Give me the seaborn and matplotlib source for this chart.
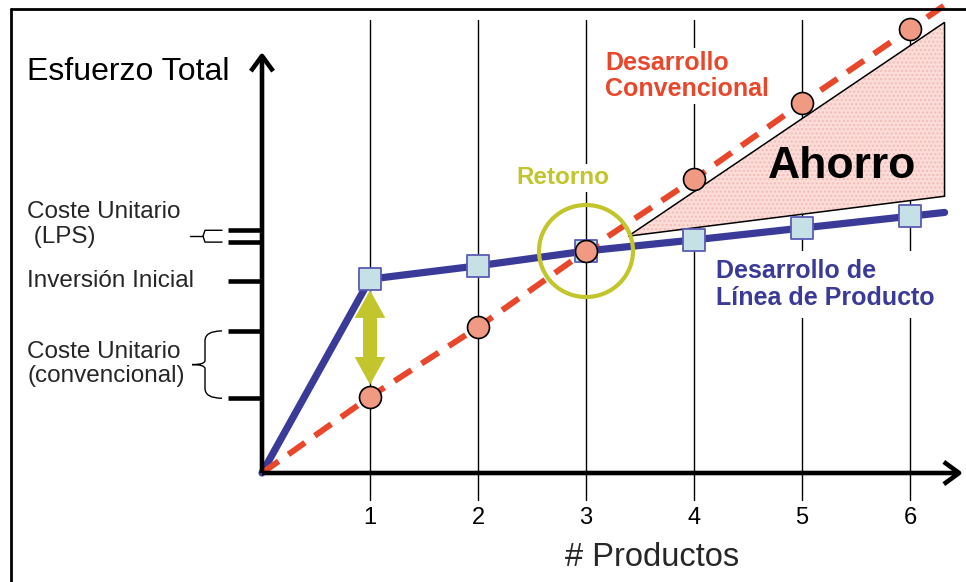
import matplotlib

matplotlib.use("Agg")
import matplotlib.pyplot as plt
import numpy as np
import pandas as pd
import seaborn as sns
from matplotlib.lines import Line2D
from matplotlib.patches import Ellipse, FancyArrowPatch, PathPatch, Polygon
from matplotlib.path import Path

# --- data --------------------------------------------------------------
products = [0, 1, 2, 3, 4, 5, 6]
effort_conventional = [0, 1.03, 1.97, 3.0, 3.97, 5.0, 6.0]
effort_lps = [0, 2.62, 2.80, 3.0, 3.15, 3.31, 3.47]
product_ticks = [1, 2, 3, 4, 5, 6]
effort_ticks = [1.01, 1.92, 2.59, 3.12, 3.28]
savings_x = [3.39, 6.32, 6.32]
savings_y = [3.20, 6.09, 3.74]
x_end = 6.32

# --- layout ------------------------------------------------------------
W, H = 966, 582
OX, OY = 262, 473  # origin in pixels
SX, SY = 108, 74  # pixels per unit

NAVY = "#3A3A98"
RED = "#E9472B"
OLIVE = "#C2C52B"

sns.set_theme(style="white")
plt.rcParams["font.family"] = ["Liberation Sans", "DejaVu Sans"]

fig = plt.figure(figsize=(W / 100, H / 100), dpi=100)
ax = fig.add_axes([0, 0, 1, 1])
ax.set_xlim(-OX / SX, (W - OX) / SX)
ax.set_ylim(-(H - OY) / SY, OY / SY)
ax.axis("off")


def dx(px):
    return px / SX


def dy(px):
    return px / SY


# vertical guide lines
for p in product_ticks:
    ax.plot([p, p], [dy(-27), dy(453)], color="black", lw=1.0, zorder=1)
    ax.text(p, dy(-45), str(p), ha="center", va="center", fontsize=17,
            color="black", zorder=3)

# savings triangle
tri = list(zip(savings_x, savings_y))
ax.add_patch(Polygon(tri, closed=True, facecolor="#FBDCD8", edgecolor="#F2BDB5",
                     hatch="....", lw=0, zorder=2))
ax.add_patch(Polygon(tri, closed=True, fill=False, edgecolor="black", lw=1.1,
                     zorder=2.1))


def extend(xs, ys):
    slope = (ys[-1] - ys[-2]) / (xs[-1] - xs[-2])
    return xs + [x_end], ys + [ys[-1] + slope * (x_end - xs[-1])]


lx, ly = extend(products, effort_lps)
cx, cy = extend(products, effort_conventional)
df_lps = pd.DataFrame({"productos": lx, "esfuerzo": ly})
df_conv = pd.DataFrame({"productos": cx, "esfuerzo": cy})

sns.lineplot(data=df_lps, x="productos", y="esfuerzo", ax=ax, color=NAVY,
             lw=5.2, sort=False, zorder=3, solid_capstyle="round")
sns.lineplot(data=df_conv, x="productos", y="esfuerzo", ax=ax, color=RED,
             lw=4.3, sort=False, zorder=4, dashes=(3.4, 2.0))

sns.scatterplot(x=products[1:], y=effort_lps[1:], ax=ax, marker="s", s=250,
                color="#C6E1E6", edgecolor="#5B5BB5", linewidth=1.3, zorder=5)
sns.scatterplot(x=products[1:], y=effort_conventional[1:], ax=ax, marker="o",
                s=250, color="#F09A84", edgecolor="black", linewidth=1.2,
                zorder=6)

# break-even circle
ax.add_patch(Ellipse((3, effort_lps[3]), dx(94), dy(92), fill=False,
                     edgecolor=OLIVE, lw=3, zorder=7))

# double arrow between both curves at one product
top = effort_lps[1] - dy(11)
bot = effort_conventional[1] + dy(12)
for start, end in ((bot + dy(30), top), (top - dy(30), bot)):
    ax.add_patch(FancyArrowPatch(
        (1, start), (1, end),
        arrowstyle="simple,head_length=20,head_width=22,tail_width=10",
        mutation_scale=1, color=OLIVE, lw=0, shrinkA=0, shrinkB=0, zorder=7))

# axes with arrows
for tip in [(dx(701), 0), (0, dy(421))]:
    ax.add_patch(FancyArrowPatch(
        (0, 0), tip, arrowstyle="->,head_length=0.55,head_width=0.4",
        mutation_scale=20, color="black", lw=3.3, shrinkA=0, shrinkB=0,
        zorder=8, capstyle="butt"))

# effort ticks
for t in effort_ticks:
    ax.plot([dx(-34), 0], [t, t], color="black", lw=3.3, zorder=8,
            solid_capstyle="butt")

# bracket for LPS unit cost
t3, t4 = effort_ticks[3], effort_ticks[4]
ax.plot([dx(-72), dx(-59)], [(t3 + t4) / 2] * 2, color="black", lw=1.0)
ax.plot([dx(-40), dx(-57), dx(-59), dx(-57), dx(-40)],
        [t4, t4, (t3 + t4) / 2, t3, t3], color="black", lw=1.0)

# curly brace for conventional unit cost
b0, b1 = effort_ticks[0], effort_ticks[1]
bm = (b0 + b1) / 2
verts = [(dx(-40), b1), (dx(-57), b1), (dx(-57), b1 - dy(10)),
         (dx(-57), bm + dy(4)), (dx(-57), bm), (dx(-70), bm),
         (dx(-57), bm), (dx(-57), bm - dy(4)),
         (dx(-57), b0 + dy(10)), (dx(-57), b0), (dx(-40), b0)]
codes = [Path.MOVETO, Path.CURVE3, Path.CURVE3, Path.LINETO, Path.CURVE3,
         Path.CURVE3, Path.CURVE3, Path.CURVE3, Path.LINETO, Path.CURVE3,
         Path.CURVE3]
ax.add_patch(PathPatch(Path(verts, codes), fill=False, edgecolor="black", lw=1.0))

# texts
white = dict(facecolor="white", edgecolor="none", pad=2)
ax.text(dx(-235), dy(401), "Esfuerzo Total", fontsize=23, ha="left",
        va="center", color="black")
ax.text(dx(-235), dy(248.5), "Coste Unitario\n (LPS)", fontsize=17.5, ha="left",
        va="center", linespacing=1.12)
ax.text(dx(-235), dy(192), "Inversión Inicial", fontsize=17.5, ha="left",
        va="center")
ax.text(dx(-235), dy(109), "Coste Unitario\n(convencional)", fontsize=17.5,
        ha="left", va="center", linespacing=1.12)
ax.text(dx(390), dy(-85), "# Productos", fontsize=23.5, ha="center", va="center")

ax.text(dx(343), dy(397), "Desarrollo\nConvencional", fontsize=18,
        fontweight="bold", color=RED, ha="left", va="center", linespacing=1.12,
        bbox=white, zorder=3)
ax.text(dx(301), dy(295), "Retorno", fontsize=17.5, fontweight="bold",
        color=OLIVE, ha="center", va="center", bbox=white, zorder=3)
ax.text(dx(580), dy(306), "Ahorro", fontsize=32, fontweight="bold",
        color="black", ha="center", va="center", zorder=3)
ax.text(dx(454), dy(188.5), "Desarrollo de\nLínea de Producto", fontsize=18,
        fontweight="bold", color=NAVY, ha="left", va="center",
        linespacing=1.12, bbox=dict(facecolor="white", edgecolor="none", pad=6),
        zorder=3)

# frame of the slide
fig.add_artist(Line2D([11 / W, 11 / W], [0, 1 - 9 / H], color="black", lw=2,
                      transform=fig.transFigure))
fig.add_artist(Line2D([11 / W, 1], [1 - 9 / H, 1 - 9 / H], color="black", lw=2,
                      transform=fig.transFigure))

fig.savefig("out.png", dpi=100)
